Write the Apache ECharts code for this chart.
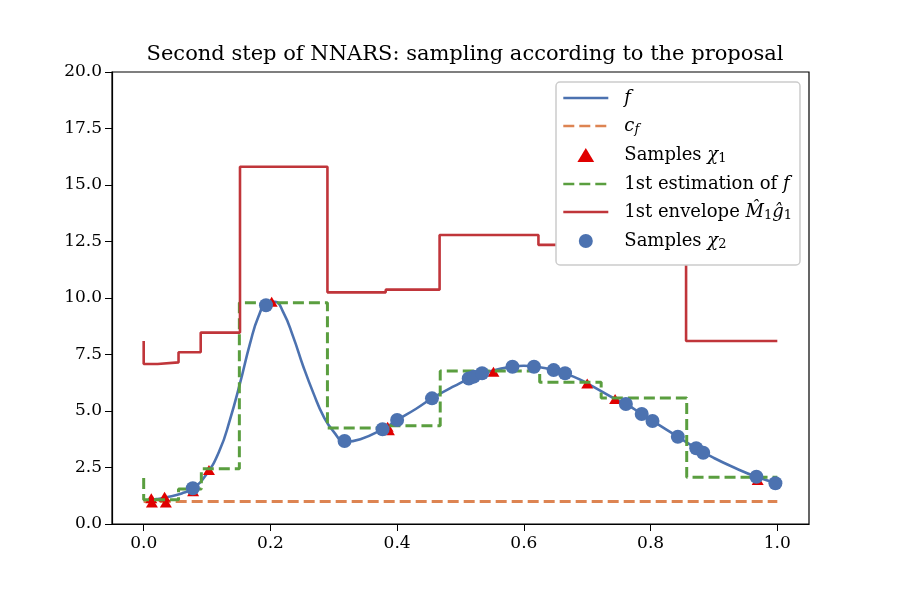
<!DOCTYPE html>
<html>
<head>
<meta charset="utf-8">
<script src="https://cdn.jsdelivr.net/npm/echarts@6/dist/echarts.min.js"></script>
<style>
  html, body { margin: 0; padding: 0; background: #fff; }
  #panel { width: 900px; height: 600px; }
</style>
</head>
<body>
<div id="panel"></div>
<script>
// target density f
var fX = [0, 0.02, 0.036, 0.06, 0.078, 0.099, 0.12, 0.136, 0.152, 0.168, 0.181, 0.194, 0.207, 0.22, 0.236, 0.252, 0.268, 0.284, 0.300, 0.318, 0.342, 0.377, 0.40, 0.43, 0.455, 0.49, 0.521, 0.55, 0.582, 0.60, 0.616, 0.647, 0.68, 0.70, 0.744, 0.761, 0.786, 0.803, 0.843, 0.872, 0.90, 0.93, 0.967, 1.0];
var fY = [1.02, 1.1, 1.18, 1.35, 1.58, 2.2, 3.27, 4.6, 6.22, 8.0, 9.17, 9.76, 9.83, 9.39, 8.28, 6.96, 5.78, 4.75, 4.08, 3.64, 3.75, 4.19, 4.6, 5.1, 5.56, 6.1, 6.52, 6.78, 6.96, 7.0, 6.97, 6.81, 6.5, 6.22, 5.53, 5.31, 4.87, 4.56, 3.86, 3.35, 2.92, 2.52, 2.09, 1.8];

// constant c_f
var cfX = [0, 1];
var cfY = [1.0, 1.0];

// first estimation of f (steps)
var estX = [0, 0, 0.055, 0.091, 0.151, 0.290, 0.381, 0.468, 0.625, 0.722, 0.857, 1.0];
var estY = [2.03, 1.07, 1.55, 2.45, 9.79, 4.25, 4.35, 6.77, 6.27, 5.58, 2.07, 2.07];

// first envelope (steps)
var envX = [0, 0, 0.022, 0.055, 0.090, 0.152, 0.290, 0.382, 0.467, 0.623, 0.856, 1.0];
var envY = [8.1, 7.08, 7.15, 7.6, 8.47, 15.81, 10.25, 10.37, 12.79, 12.35, 8.1, 8.1];

// samples chi_1
var s1X = [0.013, 0.035, 0.012, 0.033, 0.078, 0.103, 0.202, 0.385, 0.387, 0.552, 0.700, 0.744, 0.969];
var s1Y = [0.95, 0.95, 1.14, 1.21, 1.45, 2.39, 9.83, 4.3, 4.15, 6.74, 6.22, 5.53, 1.95];

// samples chi_2
var s2X = [0.0775, 0.193, 0.317, 0.377, 0.40, 0.455, 0.513, 0.521, 0.534, 0.582, 0.616, 0.647, 0.665, 0.761, 0.786, 0.803, 0.843, 0.872, 0.883, 0.967, 0.997];
var s2Y = [1.58, 9.68, 3.67, 4.19, 4.6, 5.56, 6.44, 6.52, 6.67, 6.96, 6.96, 6.81, 6.67, 5.31, 4.87, 4.56, 3.86, 3.35, 3.15, 2.09, 1.80];

var xTicks = [0, 0.2, 0.4, 0.6, 0.8, 1.0];

var fontName = 'DejaVu Serif';
var blue = '#4c72b0', orange = '#dd8452', green = '#5a9e3f', red = '#c0353a', tri = '#e00000';

function zip(xs, ys) {
    var out = [];
    for (var i = 0; i < xs.length; i++) out.push([xs[i], ys[i]]);
    return out;
}

var legendText = {
    'f': '{i|f}',
    'c_f': '{i|c}{subi|f}',
    'Samples χ1': '{t|Samples }{i|χ}{sub|1}',
    '1st estimation of f': '{t|1st estimation of }{i|f}',
    '1st envelope': '{t|1st envelope }{i|M\u0302}{sub|1}{i|ĝ}{sub|1}',
    'Samples χ2': '{t|Samples }{i|χ}{sub|2}'
};

// line entries: hide the legend symbol, keep the line
var noSym = { opacity: 0 };

var myChart = echarts.init(document.getElementById('panel'));

var option = {
    animation: false,
    textStyle: { fontFamily: fontName, color: '#000' },
    title: {
        text: 'Second step of NNARS: sampling according to the proposal',
        left: 460,
        textAlign: 'center',
        top: 39,
        textStyle: { fontFamily: fontName, fontSize: 21, fontWeight: 'normal', color: '#000' }
    },
    grid: {
        left: 112, top: 72, right: 91, bottom: 76,
        show: true, borderColor: '#000', borderWidth: 1.2
    },
    legend: {
        left: 556, top: 82,
        z: 20,
        orient: 'vertical',
        backgroundColor: '#ffffff',
        borderColor: '#cccccc',
        borderWidth: 1.5,
        borderRadius: 4,
        padding: [7, 8, 14, 6],
        itemWidth: 45,
        itemHeight: 14,
        itemGap: 10,
        selectedMode: false,
        lineStyle: { width: 2.6 },
        data: [
            { name: 'f', itemStyle: noSym },
            { name: 'c_f', itemStyle: noSym },
            { name: 'Samples χ1', icon: 'path://M6,0L12,10L0,10Z' },
            { name: '1st estimation of f', itemStyle: noSym },
            { name: '1st envelope', itemStyle: noSym },
            { name: 'Samples χ2', icon: 'circle' }
        ],
        formatter: function (name) { return legendText[name]; },
        textStyle: {
            padding: [0, 0, 0, 11],
            rich: {
                t: { fontFamily: fontName, fontSize: 18, lineHeight: 20, color: '#000' },
                i: { fontFamily: fontName, fontSize: 18, fontStyle: 'italic', lineHeight: 20, color: '#000' },
                sub: { fontFamily: fontName, fontSize: 13, lineHeight: 12, verticalAlign: 'bottom', color: '#000' },
                subi: { fontFamily: fontName, fontSize: 13, fontStyle: 'italic', lineHeight: 12, verticalAlign: 'bottom', color: '#000' }
            }
        }
    },
    xAxis: {
        type: 'value',
        min: -0.05,
        max: 1.05,
        splitLine: { show: false },
        axisLine: { onZero: false, lineStyle: { color: '#000', width: 1.2 } },
        axisTick: { length: 7, lineStyle: { color: '#000' }, customValues: xTicks },
        axisLabel: {
            customValues: xTicks,
            margin: 11,
            fontSize: 17, fontFamily: fontName, color: '#000',
            formatter: function (v) { return v.toFixed(1); }
        }
    },
    yAxis: {
        type: 'value',
        min: 0,
        max: 20,
        interval: 2.5,
        splitLine: { show: false },
        axisLine: { show: true, onZero: false, lineStyle: { color: '#000', width: 1.2 } },
        axisTick: { show: true, length: 7, lineStyle: { color: '#000' } },
        axisLabel: {
            margin: 10,
            fontSize: 17, fontFamily: fontName, color: '#000',
            formatter: function (v) { return v.toFixed(1); }
        }
    },
    series: [
        {
            name: 'f', type: 'line', data: zip(fX, fY),
            smooth: 0.5, symbol: 'none',
            lineStyle: { color: blue, width: 2.6 },
            itemStyle: { color: blue }, z: 2
        },
        {
            name: 'c_f', type: 'line', data: zip(cfX, cfY),
            symbol: 'none',
            lineStyle: { color: orange, width: 3, type: [11, 5] },
            itemStyle: { color: orange }, z: 2
        },
        {
            name: 'Samples χ1', type: 'scatter', data: zip(s1X, s1Y),
            symbol: 'triangle', symbolSize: [12, 10],
            itemStyle: { color: tri, opacity: 1 }, z: 3
        },
        {
            name: '1st estimation of f', type: 'line', data: zip(estX, estY),
            step: 'end', symbol: 'none',
            lineStyle: { color: green, width: 3, type: [11, 5] },
            itemStyle: { color: green }, z: 4
        },
        {
            name: '1st envelope', type: 'line', data: zip(envX, envY),
            step: 'end', symbol: 'none',
            lineStyle: { color: red, width: 2.6 },
            itemStyle: { color: red }, z: 4
        },
        {
            name: 'Samples χ2', type: 'scatter', data: zip(s2X, s2Y),
            symbol: 'circle', symbolSize: 14,
            itemStyle: { color: blue, opacity: 1 }, z: 5
        }
    ]
};

myChart.setOption(option);
</script>
</body>
</html>
